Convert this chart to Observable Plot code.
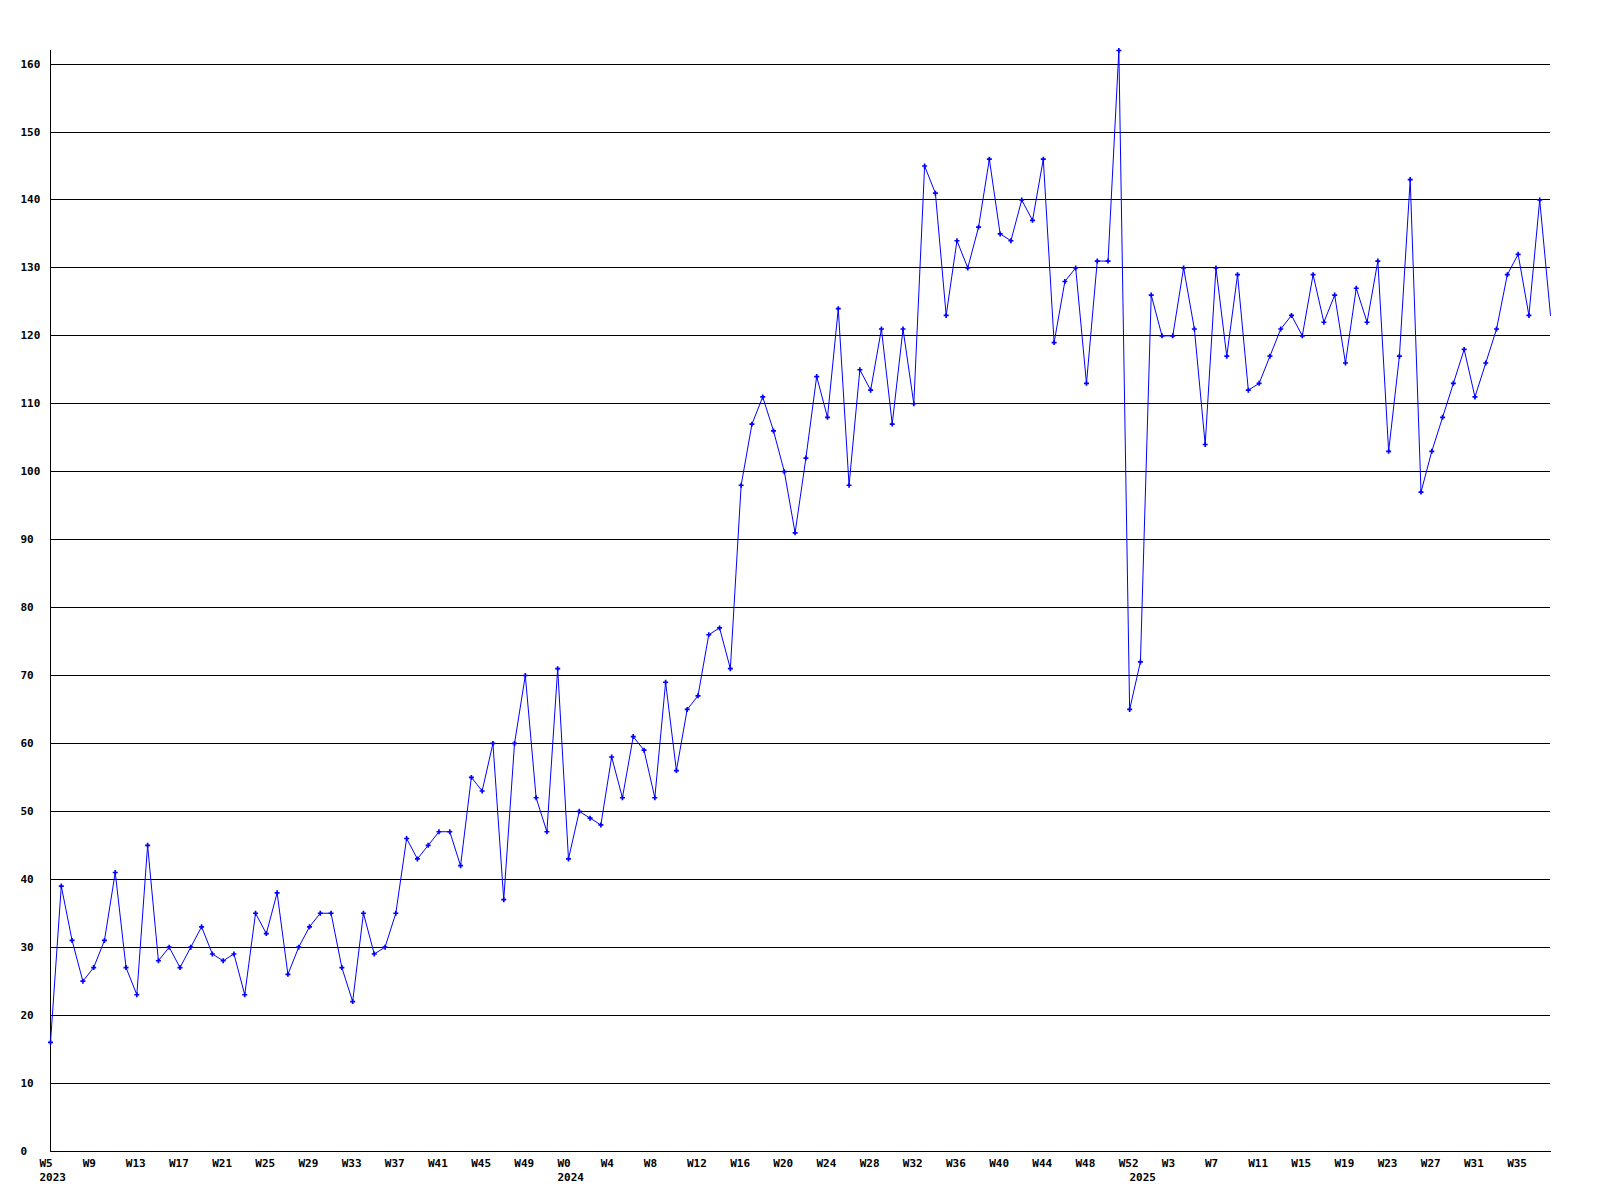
<!DOCTYPE html>
<html>
<head>
<meta charset="utf-8">
<script src="https://cdn.jsdelivr.net/npm/d3@7"></script>
<script src="https://cdn.jsdelivr.net/npm/@observablehq/plot@0.6"></script>
<style>
html, body { margin: 0; padding: 0; background: #fff; }
#chart svg { display: block; }
</style>
</head>
<body>
<div id="chart"></div>
<script>
// Week categories: years with their first and last plotted week numbers
const years = [2023, 2024, 2025];
const firstWeek = [5, 0, 0];
const lastWeek = [52, 52, 38];

// Weekly values, in order
const values = [
  16, 39, 31, 25, 27, 31, 41, 27, 23, 45, 28, 30, 27, 30, 33, 29, 28, 29, 23, 35,
  32, 38, 26, 30, 33, 35, 35, 27, 22, 35, 29, 30, 35, 46, 43,
  45, 47, 47, 42, 55, 53, 60, 37, 60, 70, 52, 47, 71, 43, 50, 49, 48, 58, 52, 61,
  59, 52, 69, 56, 65, 67, 76, 77, 71,
  98, 107, 111, 106, 100, 91, 102, 114, 108, 124, 98, 115, 112, 121, 107, 121, 110,
  145, 141, 123, 134, 130, 136, 146, 135, 134, 140, 137, 146, 119, 128, 130, 113, 131, 131, 162, 65, 72,
  126, 120, 120, 130, 121, 104, 130, 117, 129, 112, 113, 117, 121, 123, 120, 129, 122, 126, 116, 127,
  122, 131, 103, 117, 143, 97, 103, 108, 113, 118, 111, 116, 121, 129, 132, 123, 140, 123
];

// Y tick values
const yTicks = [0, 10, 20, 30, 40, 50, 60, 70, 80, 90, 100, 110, 120, 130, 140, 150, 160];
const weekTickStep = 4;

const categories = [];
years.forEach((y, i) => {
  for (let w = firstWeek[i]; w <= lastWeek[i]; w++) categories.push({year: y, week: w, key: `${y}-W${w}`});
});
const keys = categories.map(c => c.key);
const data = values.map((v, i) => ({key: keys[i], value: v}));
const weekTicks = keys.filter((k, i) => i % weekTickStep === 0);
const yearTicks = years.map(y => keys.find(k => k.startsWith(y + "-")));
const weekLabel = new Map(categories.map(c => [c.key, "W" + c.week]));

const chart = Plot.plot({
  width: 1600,
  height: 1200,
  marginLeft: 50,
  marginRight: 50,
  marginTop: 50,
  marginBottom: 49.5,
  style: {
    fontFamily: "'DejaVu Sans Mono', 'Liberation Mono', monospace",
    fontSize: "11px",
    fontWeight: "bold",
    color: "#000",
    background: "#fff",
    overflow: "visible"
  },
  x: {type: "point", domain: keys, padding: 0, axis: null},
  y: {domain: [0, 162], axis: null},
  marks: [
    Plot.gridY(yTicks.filter(t => t > 0), {stroke: "#000", strokeOpacity: 1, strokeWidth: 1, shapeRendering: "crispEdges"}),
    Plot.frame({anchor: "left", stroke: "#000", shapeRendering: "crispEdges"}),
    Plot.frame({anchor: "bottom", stroke: "#000", shapeRendering: "crispEdges"}),
    Plot.axisY(yTicks, {tickSize: 0, tickPadding: 0, textAnchor: "start", dx: -30, label: null, fill: "#000"}),
    Plot.axisX(weekTicks, {tickSize: 0, tickPadding: 0, tickFormat: k => weekLabel.get(k), textAnchor: "start", dx: -11, dy: 8, label: null, fill: "#000"}),
    Plot.axisX(yearTicks, {tickSize: 0, tickPadding: 0, tickFormat: k => k.slice(0, 4), textAnchor: "start", dx: -11, dy: 22.5, label: null, fill: "#000"}),
    Plot.line(data, {x: "key", y: "value", stroke: "#0000ff", strokeWidth: 1}),
    Plot.dot(data.slice(0, -1), {x: "key", y: "value", symbol: "cross", r: 2.1, fill: "#0000ff", stroke: null})
  ]
});
document.getElementById("chart").appendChild(chart);
</script>
</body>
</html>
